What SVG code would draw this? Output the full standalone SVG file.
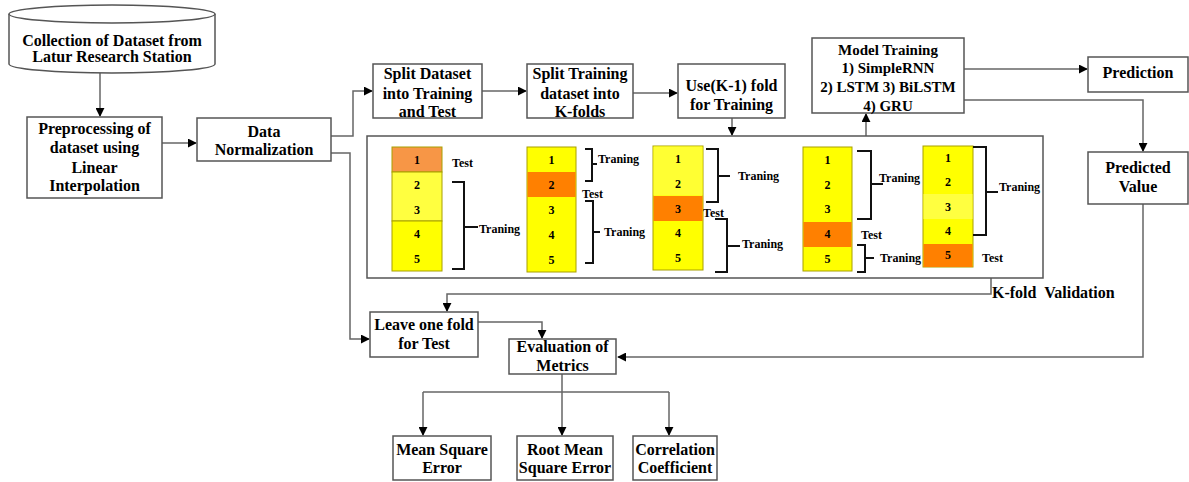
<svg xmlns="http://www.w3.org/2000/svg" width="1189" height="482" viewBox="0 0 1189 482">
<style>
text{font-family:"Liberation Serif","Times New Roman",serif;font-weight:bold;fill:#000}
.t{font-size:16px;text-anchor:middle}
.m{font-size:15px;text-anchor:middle}
.s{font-size:12px}
.d{font-size:12px;text-anchor:middle}
.box{fill:#fff;stroke:#555;stroke-width:1.5}
.c{fill:none;stroke:#666;stroke-width:1.5}
.br{fill:none;stroke:#111;stroke-width:2}
.col{stroke:#A8A000;stroke-width:1}
</style>
<defs>
<marker id="ah" viewBox="0 0 10 10" refX="9" refY="5" markerWidth="9" markerHeight="9" markerUnits="userSpaceOnUse" orient="auto">
<path d="M0,0 L10,5 L0,10 Z" fill="#000"/>
</marker>
</defs>
<rect width="1189" height="482" fill="#fff"/>

<g id="connectors">
<path class="c" d="M100,73 V116" marker-end="url(#ah)"/>
<path class="c" d="M162,143 H196" marker-end="url(#ah)"/>
<path class="c" d="M331,136 H353 V91 H372" marker-end="url(#ah)"/>
<path class="c" d="M331,153 H350 V339 H369" marker-end="url(#ah)"/>
<path class="c" d="M482,91 H526" marker-end="url(#ah)"/>
<path class="c" d="M633,93 H677" marker-end="url(#ah)"/>
<path class="c" d="M732,118 V135" marker-end="url(#ah)"/>
<path class="c" d="M866,136 V114" marker-end="url(#ah)"/>
<path class="c" d="M964,69 H1087" marker-end="url(#ah)"/>
<path class="c" d="M964,100 H1143 V151" marker-end="url(#ah)"/>
<path class="c" d="M1143,204 V357 H618" marker-end="url(#ah)"/>
<path class="c" d="M991,278 V294 H447 V311" marker-end="url(#ah)"/>
<path class="c" d="M478,322 H542 V338" marker-end="url(#ah)"/>
<path class="c" d="M562,374 V392"/>
<path class="c" d="M423,392 H669"/>
<path class="c" d="M423,392 V435" marker-end="url(#ah)"/>
<path class="c" d="M562,392 V435" marker-end="url(#ah)"/>
<path class="c" d="M669,392 V435" marker-end="url(#ah)"/>
</g>

<g id="collection">
<path class="box" d="M9,14 V64 A103,9 0 0 0 215,64 V14"/>
<ellipse class="box" cx="112" cy="14" rx="103" ry="9"/>
<text class="t" x="112" y="46">Collection of Dataset from</text>
<text class="t" x="112" y="62">Latur Research Station</text>
</g>

<g id="preprocessing">
<rect class="box" x="27" y="117" width="135" height="81"/>
<text class="t" x="94.5" y="134">Preprocessing of</text>
<text class="t" x="94.5" y="153">dataset using</text>
<text class="t" x="94.5" y="173">Linear</text>
<text class="t" x="94.5" y="191">Interpolation</text>
</g>

<g id="normalization">
<rect class="box" x="197" y="118" width="134" height="43"/>
<text class="t" x="264" y="137">Data</text>
<text class="t" x="264" y="155">Normalization</text>
</g>

<g id="split-dataset">
<rect class="box" x="373" y="64" width="109" height="54"/>
<text class="t" x="427.5" y="79">Split Dataset</text>
<text class="t" x="427.5" y="99">into Training</text>
<text class="t" x="427.5" y="117">and Test</text>
</g>

<g id="split-training">
<rect class="box" x="527" y="64" width="106" height="54"/>
<text class="t" x="580" y="79">Split Training</text>
<text class="t" x="580" y="99">dataset into</text>
<text class="t" x="580" y="117">K-folds</text>
</g>

<g id="use-k-1">
<rect class="box" x="678" y="64" width="107" height="54"/>
<text class="t" x="731.5" y="91">Use(K-1) fold</text>
<text class="t" x="731.5" y="110">for Training</text>
</g>

<g id="model-training">
<rect class="box" x="812" y="38" width="152" height="75"/>
<text class="m" x="888" y="55">Model Training</text>
<text class="m" x="888" y="73">1) SimpleRNN</text>
<text class="m" x="888" y="92">2) LSTM 3) BiLSTM</text>
<text class="m" x="888" y="111">4) GRU</text>
</g>

<g id="prediction">
<rect class="box" x="1088" y="57" width="100" height="35"/>
<text class="t" x="1138" y="78">Prediction</text>
</g>

<g id="predicted-value">
<rect class="box" x="1088" y="152" width="100" height="52"/>
<text class="t" x="1138" y="173">Predicted</text>
<text class="t" x="1138" y="192">Value</text>
</g>

<g id="kfold-validation">
<rect class="box" x="367" y="136" width="676" height="142"/>
<g id="fold1">
<rect class="col" x="392" y="147" width="50" height="25" fill="#F79646"/>
<rect class="col" x="392" y="172" width="50" height="49" fill="#FFFF40"/>
<rect class="col" x="392" y="221" width="50" height="50" fill="#FFFF00"/>
<text class="d" x="417" y="164">1</text>
<text class="d" x="417" y="189">2</text>
<text class="d" x="417" y="214">3</text>
<text class="d" x="417" y="238">4</text>
<text class="d" x="417" y="263">5</text>
<text class="s" x="452" y="167">Test</text>
<path class="br" d="M452,182 H464 V269 H452 M464,227 H478"/>
<text class="s" x="479" y="233">Traning</text>
</g>
<g id="fold2">
<rect class="col" x="527" y="147" width="49" height="125" fill="#FFFF00"/>
<rect x="527.5" y="172" width="48" height="25" fill="#FF8000"/>
<text class="d" x="551.5" y="164">1</text>
<text class="d" x="551.5" y="189">2</text>
<text class="d" x="551.5" y="214">3</text>
<text class="d" x="551.5" y="239">4</text>
<text class="d" x="551.5" y="264">5</text>
<path class="br" d="M585,149 H592 V181 H585 M592,164 H597"/>
<text class="s" x="598" y="163">Traning</text>
<text class="s" x="582" y="198">Test</text>
<path class="br" d="M585,201 H593 V263 H585 M593,232 H600"/>
<text class="s" x="604" y="236">Traning</text>
</g>
<g id="fold3">
<rect class="col" x="653" y="146" width="50" height="124" fill="#FFFF00"/>
<rect x="653.5" y="146.5" width="49" height="49" fill="#FFFF33"/>
<rect x="653.5" y="196" width="49" height="25" fill="#FF8000"/>
<text class="d" x="678" y="163">1</text>
<text class="d" x="678" y="188">2</text>
<text class="d" x="678" y="213">3</text>
<text class="d" x="678" y="237">4</text>
<text class="d" x="678" y="262">5</text>
<path class="br" d="M706,149 H718 V202 H706 M718,176 H730"/>
<text class="s" x="738" y="180">Traning</text>
<text class="s" x="703" y="217">Test</text>
<path class="br" d="M715,219 H727 V272 H715 M727,246 H740"/>
<text class="s" x="742" y="248">Traning</text>
</g>
<g id="fold4">
<rect class="col" x="803" y="147" width="49" height="124" fill="#FFFF00"/>
<rect x="803.5" y="222" width="48" height="25" fill="#FF8000"/>
<text class="d" x="827.5" y="164">1</text>
<text class="d" x="827.5" y="189">2</text>
<text class="d" x="827.5" y="213">3</text>
<text class="d" x="827.5" y="238">4</text>
<text class="d" x="827.5" y="263">5</text>
<path class="br" d="M857,151 H871 V219 H857 M871,184 H883"/>
<text class="s" x="879" y="182">Traning</text>
<text class="s" x="861" y="239">Test</text>
<path class="br" d="M857,245 H865 V272 H857 M865,258 H874"/>
<text class="s" x="880" y="262">Traning</text>
</g>
<g id="fold5">
<rect class="col" x="923" y="146" width="50" height="121" fill="#FFFF00"/>
<rect x="923.5" y="194" width="49" height="25" fill="#FFFF40"/>
<rect x="923.5" y="244" width="49" height="23" fill="#FF8000"/>
<text class="d" x="948" y="162">1</text>
<text class="d" x="948" y="186">2</text>
<text class="d" x="948" y="211">3</text>
<text class="d" x="948" y="235">4</text>
<text class="d" x="948" y="259">5</text>
<path class="br" d="M973,147 H986 V235 H973 M986,192 H998"/>
<text class="s" x="999" y="191">Traning</text>
<text class="s" x="982" y="262">Test</text>
</g>
<text x="992" y="298" font-size="16" style="white-space:pre">K-fold  Validation</text>
</g>

<g id="leave-one-fold">
<rect class="box" x="370" y="312" width="108" height="45"/>
<text class="t" x="424" y="330">Leave one fold</text>
<text class="t" x="424" y="349">for Test</text>
</g>

<g id="evaluation">
<rect class="box" x="509" y="339" width="107" height="35"/>
<text class="t" x="562.5" y="352">Evaluation of</text>
<text class="t" x="562.5" y="371">Metrics</text>
</g>

<g id="mse">
<rect class="box" x="393" y="436" width="98" height="44"/>
<text class="t" x="442" y="455">Mean Square</text>
<text class="t" x="442" y="473">Error</text>
</g>

<g id="rmse">
<rect class="box" x="517" y="436" width="96" height="44"/>
<text class="t" x="565" y="455">Root Mean</text>
<text class="t" x="565" y="473">Square Error</text>
</g>

<g id="correlation">
<rect class="box" x="633" y="436" width="84" height="44"/>
<text class="t" x="675" y="455">Correlation</text>
<text class="t" x="675" y="473">Coefficient</text>
</g>
</svg>
